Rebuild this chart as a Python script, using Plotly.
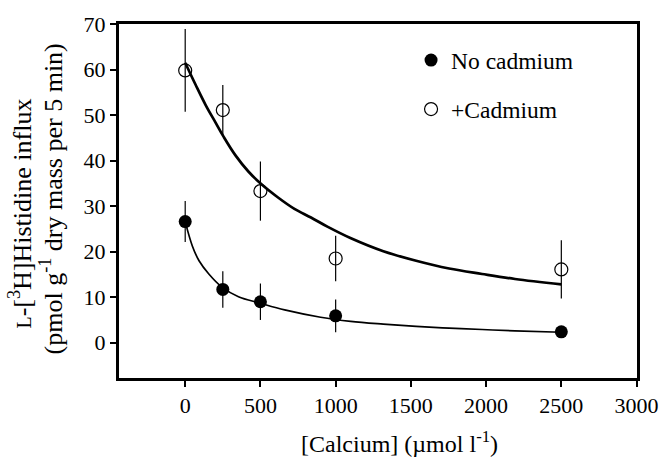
import plotly.graph_objects as go

# Measured data (Calcium concentration, µmol l-1)
calcium = [0, 250, 500, 1000, 2500]
no_cd = [26.6, 11.7, 9.0, 5.9, 2.4]
no_cd_err = [4.5, 4.0, 4.0, 3.6, 0]
plus_cd = [59.8, 51.1, 33.3, 18.5, 16.1]
plus_cd_err = [9.1, 5.5, 6.5, 5.0, 6.4]

# Fitted curves
no_cd_curve_x = [0, 48, 92, 157, 245, 354, 497, 661, 900, 1100, 1317, 1535, 1754, 1973, 2192, 2500]
no_cd_curve_y = [26.6, 21.2, 18.0, 15.1, 12.2, 10.1, 8.7, 7.2, 5.6, 4.7, 4.1, 3.6, 3.2, 2.9, 2.6, 2.3]
plus_cd_curve_x = [0, 70, 136, 201, 256, 333, 420, 507, 617, 726, 836, 945, 1098,
                   1317, 1535, 1754, 1973, 2192, 2500]
plus_cd_curve_y = [61.5, 56.6, 52.2, 48.4, 45.2, 41.2, 37.6, 34.8, 31.9, 29.4, 27.5,
                   25.5, 23.0, 20.1, 18.0, 16.3, 15.1, 14.0, 12.8]

x_ticks = [0, 500, 1000, 1500, 2000, 2500, 3000]
y_ticks = [0, 10, 20, 30, 40, 50, 60, 70]

FONT = "Liberation Serif"

fig = go.Figure()
fig.add_trace(go.Scatter(x=no_cd_curve_x, y=no_cd_curve_y, mode="lines",
                         line=dict(color="black", width=1.7, shape="spline"),
                         showlegend=False, hoverinfo="skip"))
fig.add_trace(go.Scatter(x=plus_cd_curve_x, y=plus_cd_curve_y, mode="lines",
                         line=dict(color="black", width=2.7, shape="spline"),
                         showlegend=False, hoverinfo="skip"))
fig.add_trace(go.Scatter(x=calcium, y=no_cd, mode="markers", name="No cadmium",
                         marker=dict(symbol="circle", size=13, color="black"),
                         error_y=dict(type="data", array=no_cd_err, visible=True,
                                      width=0, thickness=1.2, color="black"),
                         legend="legend"))
fig.add_trace(go.Scatter(x=calcium, y=plus_cd, mode="markers", name="+Cadmium",
                         marker=dict(symbol="circle-open", size=13, color="black",
                                     line=dict(width=1.2, color="black")),
                         error_y=dict(type="data", array=plus_cd_err, visible=True,
                                      width=0, thickness=1.2, color="black"),
                         legend="legend2"))

W, H = 671, 458
ml, mr, mt, mb = 119, 27, 17, 80
pw = W - ml - mr
ph = H - mt - mb

def px_x(p):
    return (p - ml) / pw

def px_y(p):
    return (H - mb - p) / ph

fig.update_layout(
    width=W, height=H,
    margin=dict(l=ml, r=mr, t=mt, b=mb),
    paper_bgcolor="white", plot_bgcolor="white",
    font=dict(family=FONT, size=22, color="black"),
    xaxis=dict(range=[-440, 3003], tickvals=x_ticks, ticktext=[str(v) for v in x_ticks],
               showline=True, linewidth=3, linecolor="black", mirror=True,
               ticks="outside", ticklen=6, tickwidth=2, tickcolor="black",
               showgrid=False, zeroline=False, tickfont=dict(family=FONT, size=22)),
    yaxis=dict(range=[-7.75, 70], tickvals=y_ticks, ticktext=[str(v) for v in y_ticks],
               showline=True, linewidth=3, linecolor="black", mirror=True,
               ticks="outside", ticklen=6, tickwidth=2, tickcolor="black",
               showgrid=False, zeroline=False, tickfont=dict(family=FONT, size=22)),
    legend=dict(x=px_x(415), y=px_y(54), xanchor="left", yanchor="middle",
                font=dict(family=FONT, size=23.5), bgcolor="rgba(0,0,0,0)", itemsizing="trace"),
    legend2=dict(x=px_x(415), y=px_y(104), xanchor="left", yanchor="middle",
                 font=dict(family=FONT, size=23.5), bgcolor="rgba(0,0,0,0)", itemsizing="trace"),
    annotations=[
        dict(text="[Calcium] (µmol l<sup>-1</sup>)", xref="paper", yref="paper",
             x=px_x(403), y=px_y(443), xanchor="center", yanchor="middle",
             showarrow=False, font=dict(family=FONT, size=24)),
        dict(text="<span style=\"font-size:20px\">L</span>-[<sup>3</sup>H]Histidine influx",
             xref="paper", yref="paper", x=px_x(19), y=px_y(210), textangle=-90,
             xanchor="center", yanchor="middle", showarrow=False, font=dict(family=FONT, size=26)),
        dict(text="(pmol g<sup>-1</sup> dry mass per 5 min)",
             xref="paper", yref="paper", x=px_x(51), y=px_y(195), textangle=-90,
             xanchor="center", yanchor="middle", showarrow=False, font=dict(family=FONT, size=26)),
    ],
)

fig.write_html("out.html")
